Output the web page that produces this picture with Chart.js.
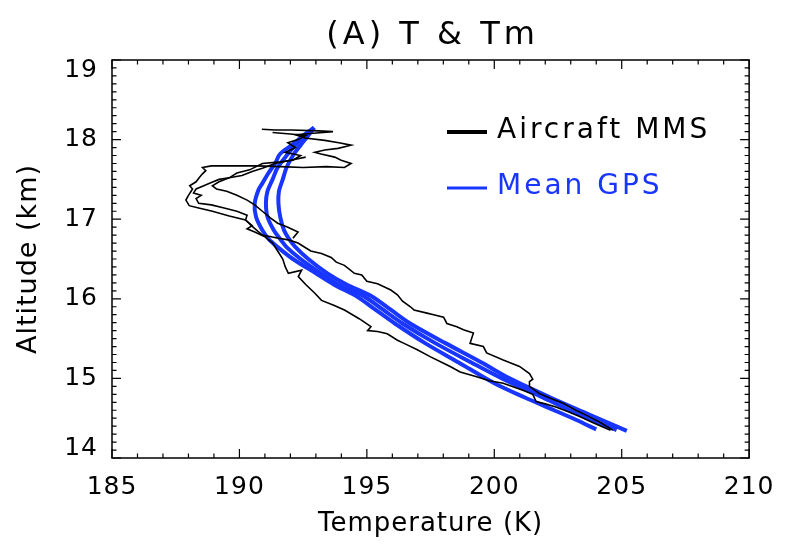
<!DOCTYPE html>
<html>
<head>
<meta charset="utf-8">
<script src="https://cdn.jsdelivr.net/npm/chart.js@4.4.1/dist/chart.umd.min.js"></script>
<style>
  html, body { margin: 0; padding: 0; background: #fff; }
  canvas { display: block; }
</style>
</head>
<body>
<canvas id="profileChart" width="787" height="548"></canvas>
<script>
// Aircraft MMS traces (temperature K, altitude km)
var mms1T = [204.65, 204.2, 203.72, 203.2, 202.68, 202.2, 201.77, 201.38, 201.38, 201.51, 201.38, 200.99, 200.35, 199.7, 199.57, 199.05, 199.18, 198.79, 198.53, 198.14, 198.01, 197.62, 197.36, 196.85, 196.71, 196.4, 196.2, 195.94, 195.42, 195.0, 194.8, 194.51, 194.12, 193.8, 193.6, 193.22, 192.8, 192.5, 192.3, 191.92, 191.53, 190.9, 190.5, 190.24, 189.6, 188.94, 188.4, 188.03, 187.9, 188.0, 188.16, 188.05, 188.3, 188.42, 188.55, 188.68, 188.55, 188.9, 189.8, 190.7, 191.6, 192.5, 193.4, 194.12, 194.38, 193.99, 193.74, 193.2, 192.96, 193.35, 193.87, 194.38, 193.9, 193.35, 192.57, 192.2, 192.9, 193.67, 193.1, 192.05, 191.4, 190.88];
var mms1Alt = [14.35, 14.44, 14.52, 14.6, 14.69, 14.75, 14.81, 14.9, 14.96, 14.99, 15.06, 15.15, 15.23, 15.32, 15.4, 15.44, 15.57, 15.61, 15.65, 15.69, 15.77, 15.8, 15.82, 15.86, 15.9, 15.97, 16.05, 16.11, 16.19, 16.22, 16.3, 16.32, 16.42, 16.46, 16.52, 16.57, 16.6, 16.66, 16.7, 16.74, 16.76, 16.8, 16.91, 16.99, 17.04, 17.1, 17.14, 17.17, 17.24, 17.3, 17.38, 17.42, 17.47, 17.52, 17.57, 17.61, 17.65, 17.67, 17.67, 17.67, 17.66, 17.65, 17.66, 17.65, 17.7, 17.74, 17.78, 17.82, 17.84, 17.87, 17.89, 17.93, 17.96, 17.99, 18.02, 18.06, 18.08, 18.1, 18.11, 18.12, 18.12, 18.13];

var mms2T = [191.3, 192.0, 192.6, 192.3, 191.9, 192.2, 191.8, 192.4, 192.1, 191.6, 190.9, 190.4, 189.9, 189.6, 189.2, 188.9, 188.6, 188.3, 188.2, 188.5, 188.3, 188.4, 188.9, 189.4, 189.9, 190.3, 190.24, 190.5, 190.3, 190.6, 191.0, 191.3, 191.5, 191.7, 191.8, 191.92, 192.44, 192.31, 192.6, 192.96, 193.22, 193.7, 194.12, 194.7, 195.16, 195.03, 195.42, 195.8, 196.2, 196.46, 196.98, 197.5, 198.01, 198.27, 198.66, 199.31, 199.8, 200.35, 201.12, 201.51, 201.64, 202.0, 202.42, 202.9, 203.35, 203.9, 204.56];
var mms2Alt = [18.09, 18.07, 18.05, 18.0, 17.96, 17.9, 17.84, 17.8, 17.74, 17.72, 17.7, 17.62, 17.58, 17.52, 17.5, 17.46, 17.42, 17.38, 17.33, 17.3, 17.26, 17.2, 17.18, 17.14, 17.1, 17.05, 16.99, 16.92, 16.88, 16.84, 16.78, 16.7, 16.6, 16.5, 16.4, 16.32, 16.36, 16.28, 16.18, 16.07, 15.98, 15.92, 15.86, 15.75, 15.65, 15.6, 15.59, 15.56, 15.48, 15.44, 15.36, 15.27, 15.19, 15.15, 15.08, 15.02, 14.97, 14.94, 14.85, 14.8, 14.71, 14.68, 14.64, 14.58, 14.52, 14.44, 14.35];

var mms3T = [192.6, 192.0, 191.4, 190.9, 190.5, 190.1, 189.6, 189.2, 188.94, 189.1, 189.5, 189.9, 190.3, 190.6, 190.9, 191.2, 191.5, 191.9, 192.3, 192.1];
var mms3Alt = [17.78, 17.74, 17.7, 17.64, 17.6, 17.55, 17.52, 17.47, 17.42, 17.38, 17.35, 17.3, 17.24, 17.18, 17.1, 17.02, 16.95, 16.9, 16.84, 16.76];

// Mean GPS profiles
var gps1T = [192.93, 192.5, 192.05, 191.7, 191.55, 191.4, 191.14, 190.9, 190.75, 190.6, 190.65, 190.9, 191.15, 191.5, 192.1, 193.0, 193.7, 194.6, 195.35, 196.1, 197.3, 198.6, 200.0, 201.2, 202.35, 203.2, 204.0];
var gps1Alt = [18.15, 18.05, 17.93, 17.85, 17.8, 17.7, 17.58, 17.45, 17.37, 17.2, 17.03, 16.86, 16.75, 16.65, 16.5, 16.32, 16.18, 16.03, 15.86, 15.69, 15.44, 15.2, 14.94, 14.76, 14.6, 14.48, 14.36];

var gps2T = [192.93, 192.6, 192.2, 191.85, 191.5, 191.3, 191.1, 191.04, 191.1, 191.35, 191.6, 191.85, 192.4, 193.2, 193.9, 194.9, 195.65, 196.4, 197.7, 199.1, 200.3, 201.9, 203.3, 204.8];
var gps2Alt = [18.15, 18.05, 17.93, 17.8, 17.65, 17.5, 17.35, 17.2, 17.03, 16.86, 16.75, 16.65, 16.5, 16.32, 16.18, 16.03, 15.86, 15.69, 15.44, 15.2, 15.0, 14.76, 14.55, 14.35];

var gps3T = [192.93, 192.7, 192.4, 192.1, 191.85, 191.7, 191.55, 191.53, 191.6, 191.75, 191.95, 192.2, 192.7, 193.45, 194.2, 195.2, 195.95, 196.7, 198.1, 199.5, 200.6, 202.2, 203.7, 205.2];
var gps3Alt = [18.15, 18.05, 17.93, 17.8, 17.65, 17.5, 17.35, 17.2, 17.03, 16.86, 16.75, 16.65, 16.5, 16.32, 16.18, 16.03, 15.86, 15.69, 15.44, 15.2, 15.0, 14.76, 14.55, 14.34];

var xTickLabels = [185, 190, 195, 200, 205, 210];
var yTickLabels = [14, 15, 16, 17, 18, 19];

var FONT = "'DejaVu Sans', sans-serif";
var BLUE = 'rgb(24,54,255)';

function pts(tt, aa) {
  return tt.map(function (t, i) { return { x: t, y: aa[i] }; });
}
function isLabel(list, v) {
  return list.some(function (l) { return Math.abs(l - v) < 1e-6; });
}

// title, inward ticks on all four sides, box frame and in-plot legend
var framePlugin = {
  id: 'frame',
  beforeDraw: function (chart) {
    chart.ctx.letterSpacing = '1px';
  },
  afterDraw: function (chart) {
    var ctx = chart.ctx, a = chart.chartArea, x = chart.scales.x, y = chart.scales.y;
    ctx.save();

    ctx.letterSpacing = '4px';
    ctx.font = '32px ' + FONT;
    ctx.fillStyle = '#000';
    ctx.textAlign = 'center';
    ctx.textBaseline = 'middle';
    ctx.fillText('(A) T & Tm', (a.left + a.right) / 2 + 2, 36);

    ctx.strokeStyle = '#000';
    ctx.lineWidth = 1.5;
    ctx.strokeRect(a.left, a.top, a.right - a.left, a.bottom - a.top);
    ctx.lineWidth = 1.2;
    ctx.beginPath();
    x.ticks.forEach(function (t) {
      var px = x.getPixelForValue(t.value);
      var len = isLabel(xTickLabels, t.value) ? 9 : 4.5;
      ctx.moveTo(px, a.bottom); ctx.lineTo(px, a.bottom - len);
      ctx.moveTo(px, a.top); ctx.lineTo(px, a.top + len);
    });
    y.ticks.forEach(function (t) {
      var py = y.getPixelForValue(t.value);
      var len = isLabel(yTickLabels, t.value) ? 9 : 4.5;
      ctx.moveTo(a.left, py); ctx.lineTo(a.left + len, py);
      ctx.moveTo(a.right, py); ctx.lineTo(a.right - len, py);
    });
    ctx.stroke();

    // legend
    var items = [
      { label: chart.data.datasets[0].label, color: '#000', width: 4, y: a.top + 71 },
      { label: chart.data.datasets[3].label, color: BLUE, width: 3, y: a.top + 127 }
    ];
    ctx.letterSpacing = '3px';
    ctx.font = '28px ' + FONT;
    ctx.textAlign = 'left';
    ctx.textBaseline = 'middle';
    items.forEach(function (it) {
      ctx.strokeStyle = it.color;
      ctx.lineWidth = it.width;
      ctx.beginPath();
      ctx.moveTo(a.left + 335, it.y + 1);
      ctx.lineTo(a.left + 375, it.y + 1);
      ctx.stroke();
      ctx.fillStyle = it.color;
      ctx.fillText(it.label, a.left + 385, it.y);
    });
    ctx.restore();
  }
};

var blackStyle = { borderColor: '#000', borderWidth: 1.6, pointRadius: 0, showLine: true, tension: 0 };
var blueStyle = { borderColor: BLUE, borderWidth: 4, pointRadius: 0, showLine: true, tension: 0.3 };

var ctx = document.getElementById('profileChart').getContext('2d');
var chart = new Chart(ctx, {
  type: 'scatter',
  data: {
    datasets: [
      Object.assign({ label: 'Aircraft MMS', data: pts(mms1T, mms1Alt) }, blackStyle),
      Object.assign({ label: 'Aircraft MMS', data: pts(mms2T, mms2Alt) }, blackStyle),
      Object.assign({ label: 'Aircraft MMS', data: pts(mms3T, mms3Alt) }, blackStyle),
      Object.assign({ label: 'Mean GPS', data: pts(gps1T, gps1Alt) }, blueStyle),
      Object.assign({ label: 'Mean GPS', data: pts(gps2T, gps2Alt) }, blueStyle),
      Object.assign({ label: 'Mean GPS', data: pts(gps3T, gps3Alt) }, blueStyle)
    ]
  },
  options: {
    responsive: false,
    animation: false,
    layout: { padding: { left: 0, right: 32, top: 60, bottom: 0 } },
    plugins: {
      legend: { display: false },
      tooltip: { enabled: false },
      title: { display: false }
    },
    scales: {
      x: {
        type: 'linear',
        min: 185, max: 210,
        afterFit: function (s) { s.height = 90; },
        grid: { display: false, drawTicks: false },
        border: { display: false },
        ticks: {
          stepSize: 1, autoSkip: false, maxRotation: 0, padding: 14,
          color: '#000', font: { family: FONT, size: 25 },
          callback: function (v) { return isLabel(xTickLabels, v) ? String(Math.round(v)) : ''; }
        },
        title: {
          display: true, text: 'Temperature (K)', color: '#000',
          font: { family: FONT, size: 26 }, padding: { top: 0, bottom: 8 }
        }
      },
      y: {
        type: 'linear',
        min: 14, max: 19,
        afterFit: function (s) { s.width = 112; },
        grid: { display: false, drawTicks: false },
        border: { display: false },
        ticks: {
          stepSize: 0.1, autoSkip: false, padding: 14,
          color: '#000', font: { family: FONT, size: 25, lineHeight: 0.8 },
          callback: function (v) {
            if (!isLabel(yTickLabels, v)) return '';
            var s = String(Math.round(v));
            // end labels sit just inside the frame, as in the reference
            if (Math.abs(v - 19) < 1e-6) return ['', s];
            if (Math.abs(v - 14) < 1e-6) return [s, ''];
            return s;
          }
        },
        title: {
          display: true, text: 'Altitude (km)', color: '#000',
          font: { family: FONT, size: 27 }, padding: { top: 13, bottom: 0 }
        }
      }
    }
  },
  plugins: [framePlugin]
});
</script>
</body>
</html>
